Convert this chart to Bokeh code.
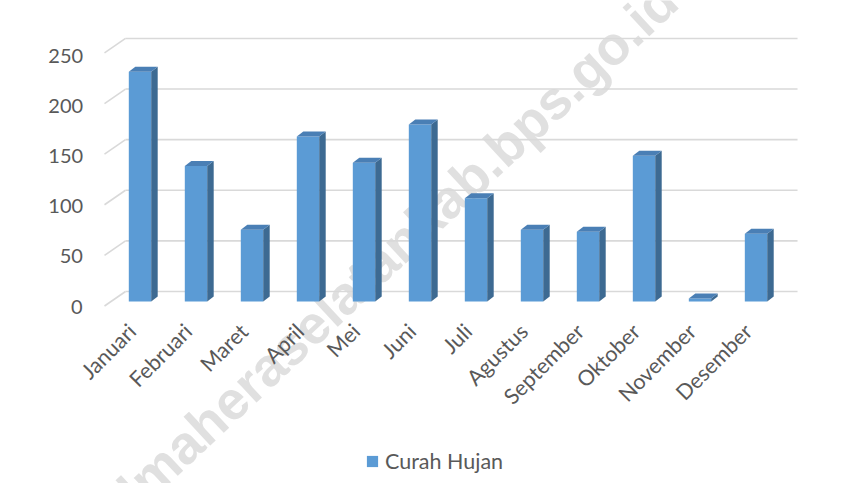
import math
from bokeh.plotting import figure
from bokeh.models import Range1d, Legend, LegendItem, Label
from bokeh.core.properties import value
from bokeh.embed import file_html
from bokeh.resources import INLINE

# ---- data ----
months = ["Januari", "Februari", "Maret", "April", "Mei", "Juni", "Juli",
          "Agustus", "September", "Oktober", "November", "Desember"]
curah_hujan = [227, 134, 71, 163, 137, 175, 102, 71, 69, 144, 3, 67]
y_ticks = [0, 50, 100, 150, 200, 250]
y_tick_labels = ["0", "50", "100", "150", "200", "250"]
series_name = "Curah Hujan"
watermark = "halmaheraselatankab.bps.go.id"

# ---- style ----
FRONT = "#5B9BD5"
SIDE = "#3D6A92"
TOP = "#4A7FB5"
GRID = "#D9D9D9"
TEXT = "#595959"
FONT = "Lato"

PX_X = 56.0      # pixels per category
PX_Y = 1.012     # pixels per unit
half = 0.2       # half bar width (categories)
dx = 6.5 / PX_X  # 3D depth offset of bar (x)
dy = 5.0 / PX_Y  # 3D depth offset of bar (y)
DIGIT_W = 11.4   # approx. digit advance of the tick font (px)

p = figure(width=844, height=483,
           x_range=Range1d(-2.491, 12.580), y_range=Range1d(-179.8, 297.4),
           x_axis_type=None, y_axis_type=None,
           min_border_left=0, min_border_right=0, min_border_top=0, min_border_bottom=0,
           output_backend="svg", toolbar_location=None)
p.extra_y_ranges = {"front": Range1d(-176.3, 304.8), "back": Range1d(-189.7, 287.5)}
p.outline_line_color = None
p.background_fill_color = "white"
p.border_fill_color = "white"

# watermark (left-aligned at its start point)
p.add_layout(Label(x=(80 - 139.5) / PX_X, y=(301 - 540) / PX_Y, text=watermark,
                   angle=math.radians(43),
                   text_align="left", text_baseline="alphabetic",
                   text_font="Liberation Sans", text_font_style="bold",
                   text_font_size="54px",
                   text_color="#E0E0E0", level="underlay"))

# gridlines: back wall + floor diagonal
n = len(months)
back_left = (125 - 139.5) / PX_X
back_right = back_left + n
front_left = (104 - 139.5) / PX_X
depth = 14.5 / PX_Y
p.segment(x0=[back_left] * len(y_ticks), x1=[back_right] * len(y_ticks),
          y0=y_ticks, y1=y_ticks, y_range_name="back",
          line_color=GRID, line_width=1.6)
p.segment(x0=[front_left] * len(y_ticks), x1=[back_left] * len(y_ticks),
          y0=[v - depth for v in y_ticks], y1=y_ticks, y_range_name="back",
          line_color=GRID, line_width=1.6)

# bars
xs = list(range(n))
lefts = [x - half for x in xs]
rights = [x + half for x in xs]
front = p.quad(left=lefts, right=rights, bottom=0, top=curah_hujan,
               fill_color=FRONT, line_color=None)
p.patches(xs=[[r, r + dx, r + dx, r] for r in rights],
          ys=[[0, dy, v + dy, v] for v in curah_hujan],
          fill_color=SIDE, line_color=None)
p.patches(xs=[[l, l + dx, r + dx, r] for l, r in zip(lefts, rights)],
          ys=[[v, v + dy, v + dy, v] for v in curah_hujan],
          fill_color=TOP, line_color=None)

# y tick labels (front plane), right edge at a common x
ylab_x = (82 - 139.5) / PX_X
p.text(x=[ylab_x] * len(y_ticks), y=y_ticks, text=y_tick_labels, y_range_name="front",
       x_offset=[-DIGIT_W * len(s) for s in y_tick_labels],
       text_align="left", text_baseline="middle",
       text_font=value(FONT), text_font_size="20px", text_color=TEXT)

# category labels (rotated, under each bar)
label_dx = -8.0 / PX_X
label_y = -25.7
p.text(x=[x + label_dx for x in xs], y=[label_y] * n, text=months,
       angle=math.pi / 4, text_align="right", text_baseline="middle",
       text_font=value(FONT), text_font_size="21.5px", text_color=TEXT)

legend = Legend(items=[LegendItem(label=series_name, renderers=[front])],
                orientation="horizontal", location=(365, 9),
                glyph_width=14, glyph_height=14, label_standoff=6,
                label_text_font=FONT, label_text_font_size="21.5px",
                label_text_color=TEXT, border_line_color=None,
                background_fill_alpha=0, padding=0, margin=0)
p.add_layout(legend, "center")

open("out.html", "w").write(file_html(p, INLINE))
